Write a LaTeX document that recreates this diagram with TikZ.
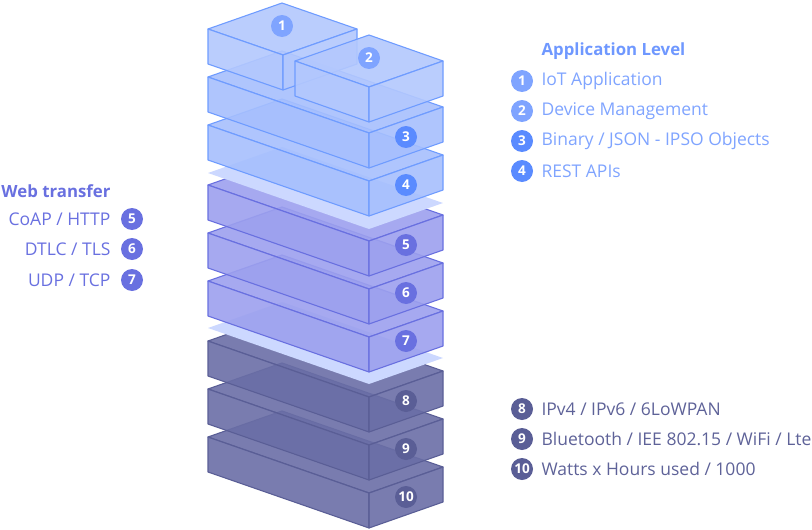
\documentclass[tikz,border=0pt]{standalone}
\usepackage{fontspec}
\setmainfont{Open Sans}

\definecolor{appfill}{HTML}{A6BFFD}
\definecolor{boxfill}{HTML}{B3C8FD}
\definecolor{appline}{HTML}{6F9CFF}
\definecolor{applight}{HTML}{7FA4FF}
\definecolor{appdark}{HTML}{5A8BFF}
\definecolor{apptext}{HTML}{6F98FF}
\definecolor{webfill}{HTML}{9CA0EE}
\definecolor{webline}{HTML}{6970E0}
\definecolor{netfill}{HTML}{6A6EA6}
\definecolor{netline}{HTML}{5A5E96}
\definecolor{nettext}{HTML}{5E6298}
\definecolor{platefill}{HTML}{CCD8FF}

% one slab of the stack: left corner x, y, front run dx, dy, style
\newcommand{\drawslab}[5]{%
  \path[#5] (#1,#2) -- ++(#3,#4) -- ++(74,-26) -- ++(-#3,-#4) -- cycle;
  \path[#5] (#1,#2) -- ++(#3,#4) -- ++(0,35) -- ++(-#3,-#4) -- cycle;
  \path[#5] (#1,#2) ++(#3,#4) -- ++(74,-26) -- ++(0,35) -- ++(-74,26) -- cycle;
}

\begin{document}
\begin{tikzpicture}[x=1pt,y=-1pt,line join=round]
    \tikzstyle{slab}=[line width=1.1pt,fill opacity=0.9]
    \tikzstyle{app slab}=[slab, fill=appfill, draw=appline];
    \tikzstyle{box slab}=[slab, fill=boxfill, draw=appline];
    \tikzstyle{web slab}=[slab, fill=webfill, draw=webline];
    \tikzstyle{net slab}=[slab, fill=netfill, draw=netline];
    \tikzstyle{plate}=[fill=platefill];
    \tikzstyle{badge}=[circle,inner sep=0pt,minimum size=22pt,text=white,font=\fontsize{13.5}{13.5}\selectfont\bfseries]
    \tikzstyle{item}=[font=\fontsize{17.5}{18}\selectfont]
    \tikzstyle{head}=[item, font=\fontsize{16.8}{18}\selectfont\bfseries]

    \useasboundingbox (0,0) rectangle (812,530);

    % Draw the network layer slabs
    \drawslab{208}{437}{161}{56}{net slab}
    \node[badge, fill=netline] (b-10) at (406,497) {10};
    \drawslab{208}{389}{161}{56}{net slab}
    \node[badge, fill=netline] (b-9) at (406,449) {9};
    \drawslab{208}{341}{161}{56}{net slab}
    \node[badge, fill=netline] (b-8) at (406,401) {8};
    \fill[plate] (208,328) -- ++(161,56) -- ++(74,-26) -- ++(-161,-56) -- cycle;

    % Draw the web transfer slabs
    \drawslab{208}{281}{161}{56}{web slab}
    \node[badge, fill=webline] (b-7) at (406,341) {7};
    \drawslab{208}{233}{161}{56}{web slab}
    \node[badge, fill=webline] (b-6) at (406,293) {6};
    \drawslab{208}{185}{161}{56}{web slab}
    \node[badge, fill=webline] (b-5) at (406,245) {5};
    \fill[plate] (208,173) -- ++(161,56) -- ++(74,-26) -- ++(-161,-56) -- cycle;

    % Draw the application slabs and the two boxes on top
    \drawslab{208}{125}{161}{56}{app slab}
    \node[badge, fill=appdark] (b-4) at (406,185) {4};
    \drawslab{208}{77}{161}{56}{app slab}
    \node[badge, fill=appdark] (b-3) at (406,137) {3};
    \drawslab{208}{29}{75}{26}{box slab}
    \node[badge, fill=applight] (b-1) at (282,26) {1};
    \drawslab{295}{61}{74}{26}{box slab}
    \node[badge, fill=applight] (b-2) at (369,58) {2};

    % Annotate the application level
    \node[head, text=apptext, anchor=west] (al) at (538,51) {Application Level};
    \node[badge, fill=applight] (l-1) at (522,81) {1};
    \node[badge, fill=applight] (l-2) at (522,111) {2};
    \node[badge, fill=appdark] (l-3) at (522,141) {3};
    \node[badge, fill=appdark] (l-4) at (522,171) {4};
    \node[item, text=applight, anchor=west] (t-1) at (538,81) {IoT Application};
    \node[item, text=applight, anchor=west] (t-2) at (538,111) {Device Management};
    \node[item, text=applight, anchor=west] (t-3) at (538,141) {Binary / JSON - IPSO Objects};
    \node[item, text=applight, anchor=west] (t-4) at (538,171) {REST APIs};

    % Annotate the web transfer
    \node[head, text=webline, anchor=east] (wt) at (114,191) {Web transfer};
    \node[badge, fill=webline] (l-5) at (132,219) {5};
    \node[badge, fill=webline] (l-6) at (132,249) {6};
    \node[badge, fill=webline] (l-7) at (132,280) {7};
    \node[item, text=webline, anchor=east] (t-5) at (114,219) {CoAP / HTTP};
    \node[item, text=webline, anchor=east] (t-6) at (114,249) {DTLC / TLS};
    \node[item, text=webline, anchor=east] (t-7) at (114,280) {UDP / TCP};

    % Annotate the network layers
    \node[badge, fill=netline] (l-8) at (522,409) {8};
    \node[badge, fill=netline] (l-9) at (522,439) {9};
    \node[badge, fill=netline] (l-10) at (522,469) {10};
    \node[item, text=nettext, anchor=west] (t-8) at (538,409) {IPv4 / IPv6 / 6LoWPAN};
    \node[item, text=nettext, anchor=west] (t-9) at (538,439) {Bluetooth / IEE 802.15 / WiFi / Lte};
    \node[item, text=nettext, anchor=west] (t-10) at (538,469) {Watts x Hours used / 1000};
\end{tikzpicture}
\end{document}
